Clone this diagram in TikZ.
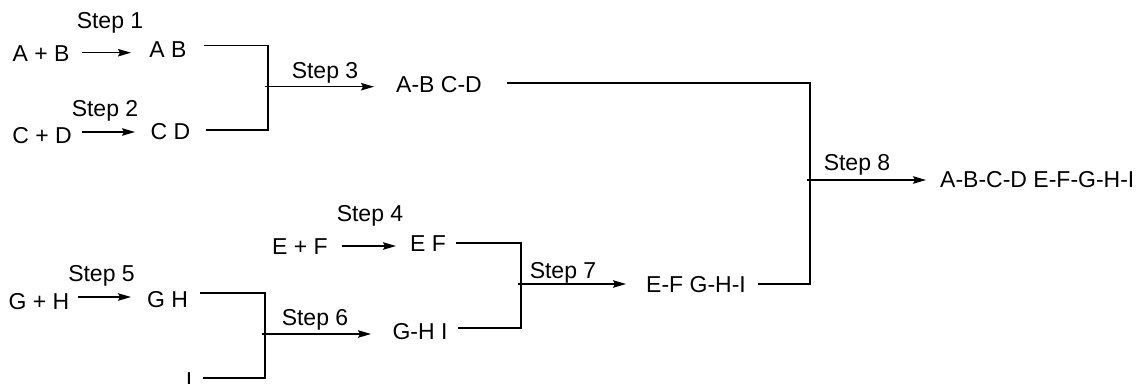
\documentclass[tikz,border=0pt]{standalone}
\usepackage{fontspec}
\setmainfont{Liberation Sans}
\usetikzlibrary{arrows.meta}
\begin{document}
\begin{tikzpicture}[x=1pt,y=-1pt,
  lbl/.style={inner sep=0pt,anchor=base,font=\fontsize{23}{27}\selectfont},
  wire/.style={line width=1.3pt},
  arr/.style={line width=1.3pt,-{Stealth[length=13pt,width=7.5pt,inset=2pt]}}]
\useasboundingbox (0,0) rectangle (1143,383);
% texts
\node[lbl] (s1) at (110,28) {Step 1};
\node[lbl] (apb) at (41,61) {A + B};
\node[lbl] (ab) at (168,57) {A B};
\node[lbl] (s2) at (105,116) {Step 2};
\node[lbl] (cpd) at (42,143) {C + D};
\node[lbl] (cd) at (170.5,139) {C D};
\node[lbl] (s3) at (325,78) {Step 3};
\node[lbl] (abcd) at (439,92) {A-B C-D};
\node[lbl] (s8) at (857,170) {Step 8};
\node[lbl,anchor=base west] (fin) at (940,187) {A-B-C-D E-F-G-H-I};
\node[lbl] (s4) at (370,221) {Step 4};
\node[lbl] (epf) at (300,254) {E + F};
\node[lbl] (ef) at (428,251) {E F};
\node[lbl] (s7) at (563,278) {Step 7};
\node[lbl] (efghi) at (696,292) {E-F G-H-I};
\node[lbl] (s5) at (101.5,281) {Step 5};
\node[lbl] (gph) at (39,309) {G + H};
\node[lbl] (gh) at (167.5,307) {G H};
\node[lbl] (s6) at (315,325) {Step 6};
\node[lbl] (ghi) at (420,339) {G-H I};
\node[lbl] (i) at (189,388) {I};
% named connector ends
\coordinate (a1s) at (82,52.7);  \coordinate (a1e) at (131,52.7);
\coordinate (a2s) at (82,132);   \coordinate (a2e) at (135,132);
\coordinate (a4s) at (342,246);  \coordinate (a4e) at (396,246);
\coordinate (a5s) at (78,297);   \coordinate (a5e) at (131,297);
\coordinate (abo) at (204,45.7); \coordinate (cdo) at (206,130); \coordinate (j3) at (268,45.7);
\coordinate (a3s) at (265,86.7); \coordinate (a3e) at (374,86.7);
\coordinate (abcdo) at (507,83); \coordinate (efghio) at (758,284); \coordinate (j8) at (810,83);
\coordinate (a8s) at (807,180);  \coordinate (a8e) at (926,180);
\coordinate (efo) at (456,243);  \coordinate (ghio) at (458,328); \coordinate (j7) at (521,243);
\coordinate (a7s) at (518,284);  \coordinate (a7e) at (626,284);
\coordinate (gho) at (200,293);  \coordinate (io) at (203,378); \coordinate (j6) at (265,293);
\coordinate (a6s) at (262,334);  \coordinate (a6e) at (371,334);
% arrows
\draw[arr] (a1s) -- (a1e);
\draw[arr] (a2s) -- (a2e);
\draw[arr] (a4s) -- (a4e);
\draw[arr] (a5s) -- (a5e);
\draw[arr] (a3s) -- (a3e);
\draw[arr] (a8s) -- (a8e);
\draw[arr] (a7s) -- (a7e);
\draw[arr] (a6s) -- (a6e);
% brackets
\draw[wire] (abo) -- (j3) |- (cdo);
\draw[wire] (abcdo) -- (j8) |- (efghio);
\draw[wire] (efo) -- (j7) |- (ghio);
\draw[wire] (gho) -- (j6) |- (io);
\end{tikzpicture}
\end{document}
